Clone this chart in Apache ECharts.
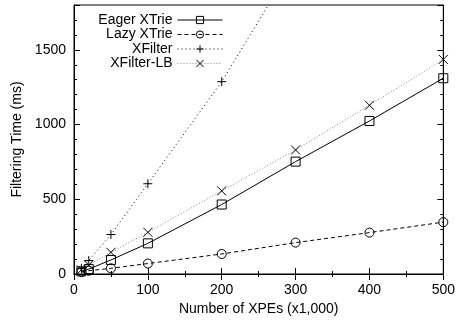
<!DOCTYPE html>
<html>
<head>
<meta charset="utf-8">
<script src="https://cdn.jsdelivr.net/npm/echarts@6/dist/echarts.min.js"></script>
<style>
  html, body { margin: 0; padding: 0; background: #fff; }
  #chart { width: 458px; height: 324px; }
</style>
</head>
<body>
<div id="chart"></div>
<script>
// x values (x1,000 XPEs)
var xpes = [10, 20, 50, 100, 200, 300, 400, 500];
var eagerXTrie = [18, 33, 94, 205, 465, 752, 1024, 1310];
var lazyXTrie = [12, 22, 38, 70, 134, 210, 277, 347];
var xFilter = [38, 90, 264, 604, 1287, 2100];
var xFilterLB = [28, 60, 145, 279, 556, 830, 1129, 1436];
var seriesNames = ['Eager XTrie', 'Lazy XTrie', 'XFilter', 'XFilter-LB'];

var FONT = 'Liberation Sans, Arial, sans-serif';

function pairs(ys) {
    return ys.map(function (y, i) { return [xpes[i], y]; });
}

// symbols drawn as stroked paths (hollow)
var SYM_SQUARE = 'path://M0,0L10,0L10,10L0,10Z';
var SYM_CIRCLE = 'path://M0,5A5,5 0 1,1 10,5A5,5 0 1,1 0,5Z';
var SYM_PLUS = 'path://M5,0L5,10M0,5L10,5';
var SYM_CROSS = 'path://M0,0L10,10M10,0L0,10';

function mkSeries(name, ys, symbol, lineColor, lineType) {
    return {
        name: name,
        type: 'line',
        data: pairs(ys),
        symbol: symbol,
        symbolSize: 9,
        showAllSymbol: true,
        clip: true,
        animation: false,
        lineStyle: { color: lineColor, width: 1, type: lineType },
        itemStyle: { color: 'none', borderColor: '#000', borderWidth: 1 }
    };
}

function xAx(pos, showLabels) {
    return {
        type: 'value', position: pos, min: 0, max: 500, interval: 100,
        name: showLabels ? 'Number of XPEs (x1,000)' : '',
        nameLocation: 'middle', nameGap: 28,
        nameTextStyle: { fontFamily: FONT, fontSize: 14, color: '#000' },
        axisLine: { show: true, lineStyle: { color: '#000', width: 1 } },
        axisTick: { show: true, inside: true, length: 6, lineStyle: { color: '#000' } },
        minorTick: { show: true, splitNumber: 2, length: 3, lineStyle: { color: '#000' } },
        axisLabel: { show: showLabels, margin: 9, fontFamily: FONT, fontSize: 14, color: '#000' },
        splitLine: { show: false }
    };
}

function yAx(pos, major, showLabels) {
    return {
        type: 'value', position: pos, min: 0, max: 1800, interval: major ? 500 : 100,
        name: showLabels ? 'Filtering Time (ms)' : '',
        nameLocation: 'middle', nameGap: 50, nameRotate: 90,
        nameTextStyle: { fontFamily: FONT, fontSize: 14, color: '#000' },
        axisLine: { show: major, lineStyle: { color: '#000', width: 1 } },
        axisTick: { show: true, inside: true, length: major ? 6 : 3, lineStyle: { color: '#000' } },
        axisLabel: {
            show: showLabels, margin: 8, fontFamily: FONT, fontSize: 14, color: '#000',
            formatter: function (v) { return v % 500 === 0 ? String(v) : ''; }
        },
        splitLine: { show: false }
    };
}

var chart = echarts.init(document.getElementById('chart'), null, { renderer: 'canvas' });
chart.setOption({
    backgroundColor: '#fff',
    animation: false,
    grid: { left: 74, right: 11, top: 5, bottom: 50, show: true, borderColor: '#000', borderWidth: 1, backgroundColor: 'transparent' },
    legend: {
        data: seriesNames,
        orient: 'vertical',
        align: 'right',
        right: 230,
        top: 8,
        itemWidth: 45,
        itemHeight: 9,
        itemGap: 0.5,
        lineStyle: { width: 1 },
        itemStyle: { borderWidth: 1 },
        textStyle: { fontFamily: FONT, fontSize: 14, color: '#000', lineHeight: 14 }
    },
    xAxis: [xAx('bottom', true), xAx('top', false)],
    yAxis: [yAx('left', true, true), yAx('left', false, false), yAx('right', true, false), yAx('right', false, false)],
    series: [
        mkSeries(seriesNames[0], eagerXTrie, SYM_SQUARE, '#000', 'solid'),
        mkSeries(seriesNames[1], lazyXTrie, SYM_CIRCLE, '#000', [4, 3]),
        mkSeries(seriesNames[2], xFilter, SYM_PLUS, '#000', [1, 3]),
        mkSeries(seriesNames[3], xFilterLB, SYM_CROSS, '#888', [1, 2])
    ]
});
</script>
</body>
</html>
